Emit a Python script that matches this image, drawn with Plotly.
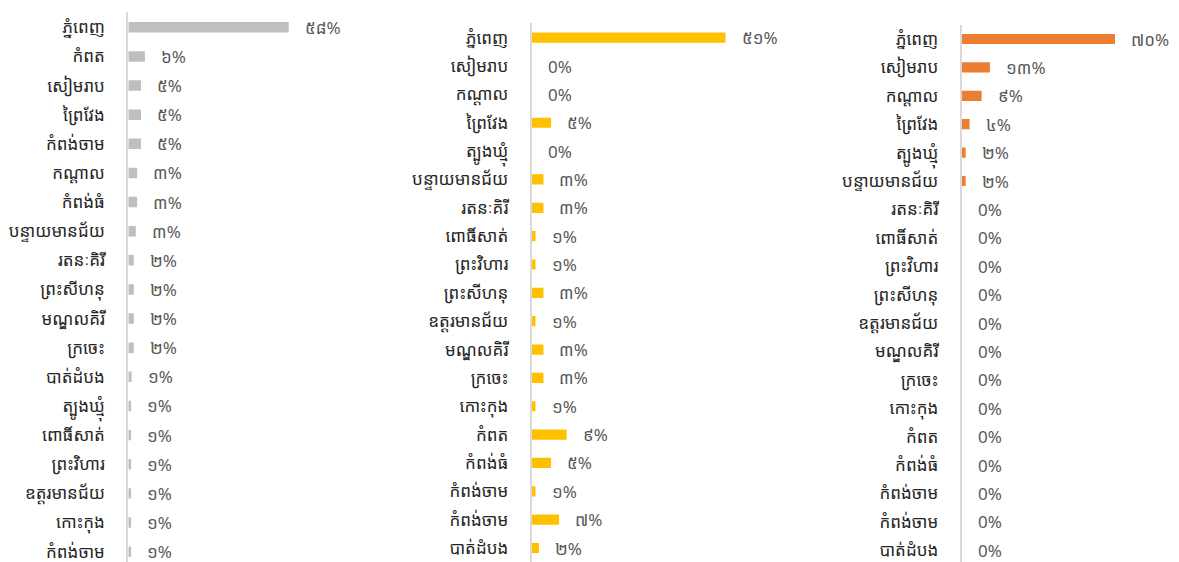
import plotly.graph_objects as go

# ---------------- data ----------------
p1_categories = ["ភ្នំពេញ", "កំពត", "សៀមរាប", "ព្រៃវែង", "កំពង់ចាម", "កណ្ដាល", "កំពង់ធំ",
                 "បន្ទាយមានជ័យ", "រតនៈគិរី", "ព្រះសីហនុ", "មណ្ឌលគិរី", "ក្រចេះ", "បាត់ដំបង",
                 "ត្បូងឃ្មុំ", "ពោធិ៍សាត់", "ព្រះវិហារ", "ឧត្ដរមានជ័យ", "កោះកុង", "កំពង់ចាម"]
p1_values = [58, 6, 4.6, 4.6, 4.6, 3.2, 3.2, 2.7, 2, 2, 2, 2, 1.2, 1, 1, 1, 1, 1, 1]

p2_categories = ["ភ្នំពេញ", "សៀមរាប", "កណ្ដាល", "ព្រៃវែង", "ត្បូងឃ្មុំ", "បន្ទាយមានជ័យ", "រតនៈគិរី",
                 "ពោធិ៍សាត់", "ព្រះវិហារ", "ព្រះសីហនុ", "ឧត្ដរមានជ័យ", "មណ្ឌលគិរី", "ក្រចេះ",
                 "កោះកុង", "កំពត", "កំពង់ធំ", "កំពង់ចាម", "កំពង់ចាម", "បាត់ដំបង"]
p2_values = [51, 0, 0, 5.1, 0, 3.1, 3.1, 1, 1, 3.1, 1, 3.1, 3.1, 1, 9.2, 5.1, 1, 7.2, 1.9]

p3_categories = ["ភ្នំពេញ", "សៀមរាប", "កណ្ដាល", "ព្រៃវែង", "ត្បូងឃ្មុំ", "បន្ទាយមានជ័យ", "រតនៈគិរី",
                 "ពោធិ៍សាត់", "ព្រះវិហារ", "ព្រះសីហនុ", "ឧត្ដរមានជ័យ", "មណ្ឌលគិរី", "ក្រចេះ",
                 "កោះកុង", "កំពត", "កំពង់ធំ", "កំពង់ចាម", "កំពង់ចាម", "បាត់ដំបង"]
p3_values = [70, 12.9, 9.1, 3.6, 1.8, 1.8, 0, 0, 0, 0, 0, 0, 0, 0, 0, 0, 0, 0, 0]

colors = ["#bfbfbf", "#ffc000", "#ed7d31"]

KH = str.maketrans("0123456789", "០១២៣៤៥៦៧៨៩")


def label(v):
    r = int(v + 0.5)
    if r == 0:
        return "0%"
    return str(r).translate(KH) + "%"


W, H = 1179, 562
FONT = "Noto Sans Khmer, Khmer OS, Leelawadee UI, Noto Sans, sans-serif"

# panel geometry (pixels) : axis x, right edge, top of axis line, first row y, row step, px per %
panels = [
    dict(cats=p1_categories, vals=p1_values, x0=128.3, x1=420, top=12, row0=27.3, step=29.13, ppu=2.766),
    dict(cats=p2_categories, vals=p2_values, x0=531.7, x1=850, top=23, row0=37.7, step=28.35, ppu=3.80),
    dict(cats=p3_categories, vals=p3_values, x0=961.7, x1=1179, top=25, row0=39.0, step=28.4, ppu=2.19),
]

fig = go.Figure()
for i, p in enumerate(panels):
    n = i + 1
    xa = "x" if n == 1 else f"x{n}"
    ya = "y" if n == 1 else f"y{n}"
    idx = list(range(len(p["cats"])))
    fig.add_trace(go.Bar(
        x=p["vals"], y=idx, orientation="h", xaxis=xa, yaxis=ya,
        marker=dict(color=colors[i], line=dict(width=0)),
        width=0.36, showlegend=False, hoverinfo="skip",
    ))
    for v, yy in zip(p["vals"], idx):
        fig.add_annotation(
            x=v, y=yy, xref=xa, yref=ya, text=label(v), showarrow=False,
            xanchor="left", yanchor="middle", xshift=14,
            font=dict(size=17, color="#595959", family=FONT),
        )
    xmax = (p["x1"] - p["x0"]) / p["ppu"]
    ytop = (p["top"] - p["row0"]) / p["step"]
    ybot = (H - p["row0"]) / p["step"]
    key = "" if n == 1 else str(n)
    fig.update_layout(**{
        f"xaxis{key}": dict(domain=[p["x0"] / W, p["x1"] / W], range=[0, xmax],
                            visible=False, anchor=ya),
        f"yaxis{key}": dict(domain=[0, (H - p["top"]) / H], range=[ybot, ytop],
                            anchor=xa, tickmode="array", tickvals=idx, ticktext=p["cats"],
                            showline=True, linecolor="#d9d9d9", linewidth=2,
                            showgrid=False, zeroline=False, ticks="",
                            ticklabelstandoff=18, ticklabeloverflow="allow",
                            tickfont=dict(size=17, color="#262626", family=FONT)),
    })

fig.update_layout(
    width=W, height=H,
    margin=dict(l=0, r=0, t=0, b=0),
    paper_bgcolor="white", plot_bgcolor="white",
    bargap=0.64,
)
fig.write_html("out.html", config={"displayModeBar": False},
               post_script="document.body.style.margin='0';document.body.style.overflow='hidden';")
